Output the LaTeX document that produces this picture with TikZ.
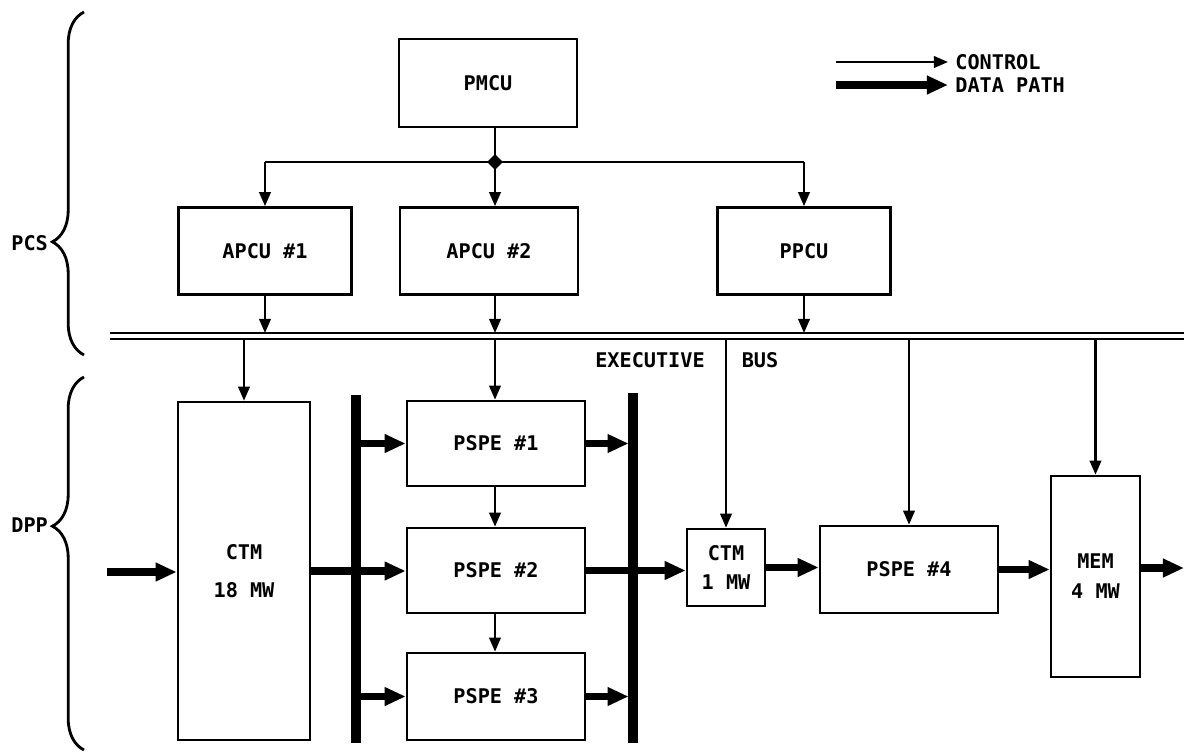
\documentclass[tikz,border=0pt]{standalone}
\usepackage{fontspec}
\setmonofont{DejaVu Sans Mono}
\usetikzlibrary{positioning,arrows.meta,calc,shapes.geometric,decorations.pathreplacing}

\begin{document}
\begin{tikzpicture}[
  x=0.02cm, y=-0.02cm,
  unit/.style={rectangle, draw, line width=1.5pt, inner sep=0pt, align=center,
               font=\ttfamily\bfseries\fontsize{11.5}{21.5}\selectfont},
  lbl/.style={font=\ttfamily\bfseries\fontsize{11.5}{14}\selectfont, inner sep=1pt},
  ctl/.style={-{Triangle[length=8pt,width=6.5pt]}, line width=1.4pt},
  dat/.style={-{Triangle[length=12pt,width=10pt]}, line width=4pt},
  bar/.style={line width=5.5pt},
  bus/.style={double, double distance=2.2pt, line width=1.3pt},
  grp/.style={decorate, line width=1.6pt}
]
\useasboundingbox (0,0) rectangle (1184,754);

% --- control units ---
\node[unit, minimum width=3.56cm, minimum height=1.76cm] (pmcu) at (488,83) {PMCU};
\coordinate (junc) at (495,162);
\node[unit, minimum width=3.46cm, minimum height=1.74cm] (apcu1) at (265,251) {APCU \#1};
\node[unit, minimum width=3.56cm, minimum height=1.74cm] (apcu2) at (489,251) {APCU \#2};
\node[unit, minimum width=3.46cm, minimum height=1.74cm] (ppcu) at (804,251) {PPCU};

\draw[line width=1.4pt] (pmcu.south -| junc) -- (junc);
\draw[line width=1.4pt] (junc -| apcu1.north) -- (junc -| ppcu.north);
\node[diamond, fill, inner sep=0pt, minimum size=9pt] (knot) at (junc) {};
\draw[ctl] (junc -| apcu1.north) -- (apcu1.north);
\draw[ctl] (junc) -- (junc |- apcu2.north);
\draw[ctl] (junc -| ppcu.north) -- (ppcu.north);

% --- executive bus ---
\coordinate (bustop) at (110,333);
\coordinate (busbot) at (110,339);
\draw[bus] (110,336) -- (1184,336);
\node[lbl] (exec) at (650,360) {EXECUTIVE};
\node[lbl] (busname) at (760,360) {BUS};

\draw[ctl] (apcu1.south) -- (apcu1.south |- bustop);
\draw[ctl] (apcu2.south -| junc) -- (junc |- bustop);
\draw[ctl] (ppcu.south) -- (ppcu.south |- bustop);

% --- data processors ---
\node[unit, minimum width=2.64cm, minimum height=6.76cm] (ctmbig) at (244,571) {CTM\\18 MW};
\node[unit, minimum width=3.56cm, minimum height=1.7cm] (pspeA) at (496,443.5) {PSPE \#1};
\node[unit, minimum width=3.56cm, minimum height=1.7cm] (pspeB) at (496,570.5) {PSPE \#2};
\node[unit, minimum width=3.56cm, minimum height=1.74cm] (pspeC) at (496,696.5) {PSPE \#3};
\node[unit, minimum width=1.56cm, minimum height=1.54cm,
      font=\ttfamily\bfseries\fontsize{11.5}{17}\selectfont] (ctmsmall) at (726,567.5) {CTM\\1 MW};
\node[unit, minimum width=3.56cm, minimum height=1.74cm] (pspeD) at (909,569.5) {PSPE \#4};
\node[unit, minimum width=1.78cm, minimum height=4.02cm,
      font=\ttfamily\bfseries\fontsize{11.5}{17}\selectfont] (mem) at (1095.5,576.5) {MEM\\4 MW};

\draw[ctl] (busbot -| ctmbig.north) -- (ctmbig.north);
\draw[ctl] (busbot -| junc) -- (junc |- pspeA.north);
\draw[ctl] (busbot -| ctmsmall.north) -- (ctmsmall.north);
\draw[ctl] (busbot -| pspeD.north) -- (pspeD.north);
\draw[ctl] (busbot -| mem.north) -- (mem.north);
\draw[ctl] (pspeA.south -| junc) -- (junc |- pspeB.north);
\draw[ctl] (pspeB.south -| junc) -- (junc |- pspeC.north);

% --- data paths ---
\coordinate (lbarT) at (356,395);
\coordinate (lbarB) at (356,743);
\coordinate (rbarT) at (633,393);
\coordinate (rbarB) at (633,743);
\coordinate (feed) at (107,572);
\coordinate (sink) at (1184,568);

\draw[dat] (feed) -- (feed -| ctmbig.west);
\draw[dat] (ctmbig.east) -- (ctmbig.east -| pspeB.west);
\draw[dat] (lbarT |- pspeA.west) -- (pspeA.west);
\draw[dat] (lbarT |- pspeC.west) -- (pspeC.west);
\draw[dat, shorten >=2.5pt] (pspeA.east) -- (pspeA.east -| rbarT);
\draw[dat, shorten >=2.5pt] (pspeC.east) -- (pspeC.east -| rbarT);
\draw[dat] (pspeB.east) -- (pspeB.east -| ctmsmall.west);
\draw[dat] (ctmsmall.east) -- (ctmsmall.east -| pspeD.west);
\draw[dat] (pspeD.east) -- (pspeD.east -| mem.west);
\draw[dat] (mem.east |- sink) -- (sink);
\draw[bar] (lbarT) -- (lbarB);
\draw[bar] (rbarT) -- (rbarB);

% --- legend ---
\node[lbl, anchor=west, inner sep=4pt] (keyctl) at (948,62) {CONTROL};
\node[lbl, anchor=west, inner sep=4pt] (keydat) at (948,85) {DATA PATH};
\coordinate (keyA) at (836,62);
\coordinate (keyB) at (836,85);
\draw[ctl] (keyA) -- (keyctl.west);
\draw[dat] (keyB) -- (keydat.west);

% --- groupings ---
\node[lbl, anchor=east] (pcs) at (50,243) {PCS};
\node[lbl, anchor=east] (dpp) at (50,525) {DPP};
\draw[grp, decoration={brace, amplitude=18pt, aspect=0.33}] (84,355) -- (84,12);
\draw[grp, decoration={brace, amplitude=18pt, aspect=0.60}] (84,750) -- (84,377);

\end{tikzpicture}
\end{document}
